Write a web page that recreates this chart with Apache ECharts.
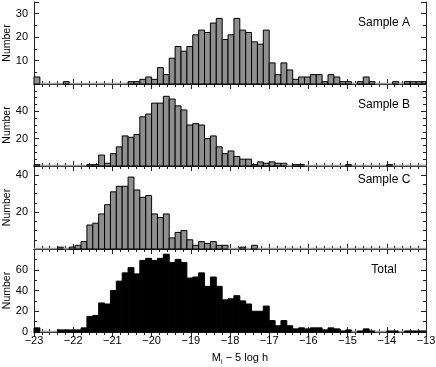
<!DOCTYPE html>
<html>
<head>
<meta charset="utf-8">
<script src="https://cdn.jsdelivr.net/npm/echarts@6/dist/echarts.min.js"></script>
<style>
  html, body { margin: 0; padding: 0; background: #fff; }
  #chart { width: 436px; height: 367px; }
</style>
</head>
<body>
<div id="chart"></div>
<script>
// histogram bins: 0.15 mag wide, starting at -23
const binStart = -23;
const binWidth = 0.15;

const countsA = [3, 0, 0, 0, 0, 1, 0, 0, 0, 0, 0, 0, 0, 0, 0, 0, 1, 1, 2, 3,
  2, 7, 4, 11, 16, 14, 16, 21, 23, 22, 26, 28, 19, 21, 28, 23, 22, 18, 17, 23,
  9, 4, 9, 6, 2, 3, 3, 4, 4, 1, 4, 3, 1, 1, 0, 1, 3, 1, 0, 0,
  0, 1, 0, 1, 1, 1, 1];
const countsB = [1, 0, 0, 0, 0, 0, 0, 0, 0, 1, 1, 8, 2, 9, 14, 22, 21, 23, 36, 38,
  46, 46, 51, 49, 44, 41, 30, 31, 30, 20, 22, 14, 9, 11, 7, 5, 5, 1, 3, 2,
  3, 2, 2, 0, 1, 1, 0, 0, 0, 0, 0, 0, 0, 1, 0, 0, 0, 0, 0, 0,
  1, 0, 0, 0, 0, 0, 0];
const countsC = [0, 0, 0, 0, 1, 0, 1, 2, 4, 13, 14, 19, 24, 31, 34, 34, 39, 32, 28, 29,
  19, 17, 19, 6, 9, 10, 5, 2, 4, 3, 4, 2, 2, 0, 0, 1, 0, 2, 0, 0,
  0, 0, 0, 0, 0, 0, 0, 0, 0, 0, 0, 0, 0, 0, 0, 0, 0, 0, 0, 0,
  0, 0, 0, 0, 0, 0, 0];
const countsTotal = [4, 0, 0, 0, 2, 2, 2, 2, 4, 15, 16, 28, 27, 40, 49, 57, 62, 56, 69, 71,
  69, 71, 75, 67, 70, 67, 52, 53, 57, 44, 53, 44, 31, 32, 35, 30, 27, 20, 20, 25,
  11, 6, 11, 6, 3, 4, 3, 4, 4, 2, 4, 3, 1, 2, 0, 1, 3, 1, 0, 0,
  1, 1, 0, 1, 1, 1, 1];

const panelNames = ['Sample A', 'Sample B', 'Sample C', 'Total'];
const yMax = [35, 60, 45, 80];
const yTicks = [[10, 20, 30], [20, 40], [20, 40], [0, 20, 40, 60]];
const xTicks = [-23, -22, -21, -20, -19, -18, -17, -16, -15, -14, -13];

const allCounts = [countsA, countsB, countsC, countsTotal];
const fills = ['#8f8f8f', '#8f8f8f', '#8f8f8f', '#000'];
const yStep = [10, 20, 20, 20];
const yMinorSplit = [2, 4, 4, 2];

// layout
const gridTops = [2, 84, 166, 249];
const gridHeights = [82, 82, 83, 83];
const labelY = [23, 105, 180, 270];

const FONT = '"Liberation Sans", Arial, Helvetica, sans-serif';

function binsOf(counts) {
  return counts.map((c, i) => [binStart + i * binWidth, binStart + (i + 1) * binWidth, c]);
}

function renderBin(fill) {
  return function (params, api) {
    const n = api.value(2);
    const p0 = api.coord([api.value(0), n]);
    const p1 = api.coord([api.value(1), 0]);
    const cs = params.coordSys;
    const x0 = Math.max(p0[0], cs.x);
    const x1 = Math.min(p1[0], cs.x + cs.width);
    if (x1 <= x0) return;
    if (!n) {
      // empty bin: thin grey line along zero
      return {
        type: 'line',
        shape: { x1: x0, y1: p1[1] - 0.5, x2: x1, y2: p1[1] - 0.5 },
        style: { stroke: '#9a9a9a', lineWidth: 1.5 }
      };
    }
    return {
      type: 'rect',
      shape: { x: x0, y: p0[1], width: x1 - x0, height: p1[1] - p0[1] },
      style: { fill: fill, stroke: '#000', lineWidth: 1 }
    };
  };
}

const chart = echarts.init(document.getElementById('chart'), null, { renderer: 'canvas' });

const grids = [], xAxes = [], yAxes = [], series = [], graphics = [];

for (let g = 0; g < 4; g++) {
  const isLast = g === 3;
  grids.push({
    left: 34, right: 10, top: gridTops[g], height: gridHeights[g],
    containLabel: false, outerBoundsMode: 'none'
  });

  const xBase = {
    type: 'value', gridIndex: g, min: -23, max: -13, interval: 1,
    axisLine: { lineStyle: { color: '#222', width: 1 } },
    axisTick: { inside: true, length: 5, lineStyle: { color: '#222' } },
    minorTick: { show: true, splitNumber: 5, length: 3, lineStyle: { color: '#222' } },
    splitLine: { show: false }
  };
  xAxes.push(Object.assign({}, xBase, {
    position: 'bottom',
    axisLabel: {
      show: isLast, margin: 3, color: '#000', fontSize: 11, fontFamily: FONT,
      hideOverlap: false,
      formatter: v => xTicks.includes(v) ? String(v).replace('-', '\u2212') : ''
    },
    name: isLast ? '{m|M}{s|i}{m| \u2212 5 log h}' : '',
    nameLocation: 'middle', nameGap: 20,
    nameTextStyle: {
      padding: [0, 0, 0, 20],
      rich: {
        m: { fontSize: 11, fontFamily: FONT, color: '#000' },
        s: { fontSize: 7, fontFamily: FONT, color: '#000', verticalAlign: 'bottom', padding: [0, 0, -3, 0] }
      }
    }
  }));
  xAxes.push(Object.assign({}, xBase, { position: 'top', axisLabel: { show: false } }));

  const ticks = yTicks[g];
  const yBase = {
    type: 'value', gridIndex: g, min: 0, max: yMax[g], interval: yStep[g],
    axisLine: { show: true, lineStyle: { color: '#222', width: 1 } },
    axisTick: { show: true, inside: true, length: 5, lineStyle: { color: '#222' } },
    minorTick: { show: true, splitNumber: yMinorSplit[g], length: 3, lineStyle: { color: '#222' } },
    splitLine: { show: false }
  };
  yAxes.push(Object.assign({}, yBase, {
    position: 'left',
    axisLabel: {
      margin: 6, color: '#000', fontSize: 11, fontFamily: FONT,
      hideOverlap: false,
      showMaxLabel: false,
      formatter: v => ticks.includes(v) ? String(v) : ''
    },
    name: 'Number', nameLocation: 'middle', nameGap: 21, nameRotate: 90,
    nameMoveOverlap: false,
    nameTextStyle: { fontSize: 10.5, fontFamily: FONT, color: '#000' }
  }));
  yAxes.push(Object.assign({}, yBase, { position: 'right', axisLabel: { show: false } }));

  series.push({
    type: 'custom',
    xAxisIndex: 2 * g,
    yAxisIndex: 2 * g,
    renderItem: renderBin(fills[g]),
    encode: { x: [0, 1], y: 2 },
    data: binsOf(allCounts[g]),
    silent: true,
    animation: false
  });

  graphics.push({
    type: 'text', x: 384, y: labelY[g],
    style: {
      text: panelNames[g], fill: '#000', font: '12px ' + FONT,
      textAlign: 'center', textVerticalAlign: 'middle'
    }
  });
}

chart.setOption({
  animation: false,
  backgroundColor: '#fff',
  grid: grids,
  xAxis: xAxes,
  yAxis: yAxes,
  series: series,
  graphic: graphics
});
</script>
</body>
</html>
